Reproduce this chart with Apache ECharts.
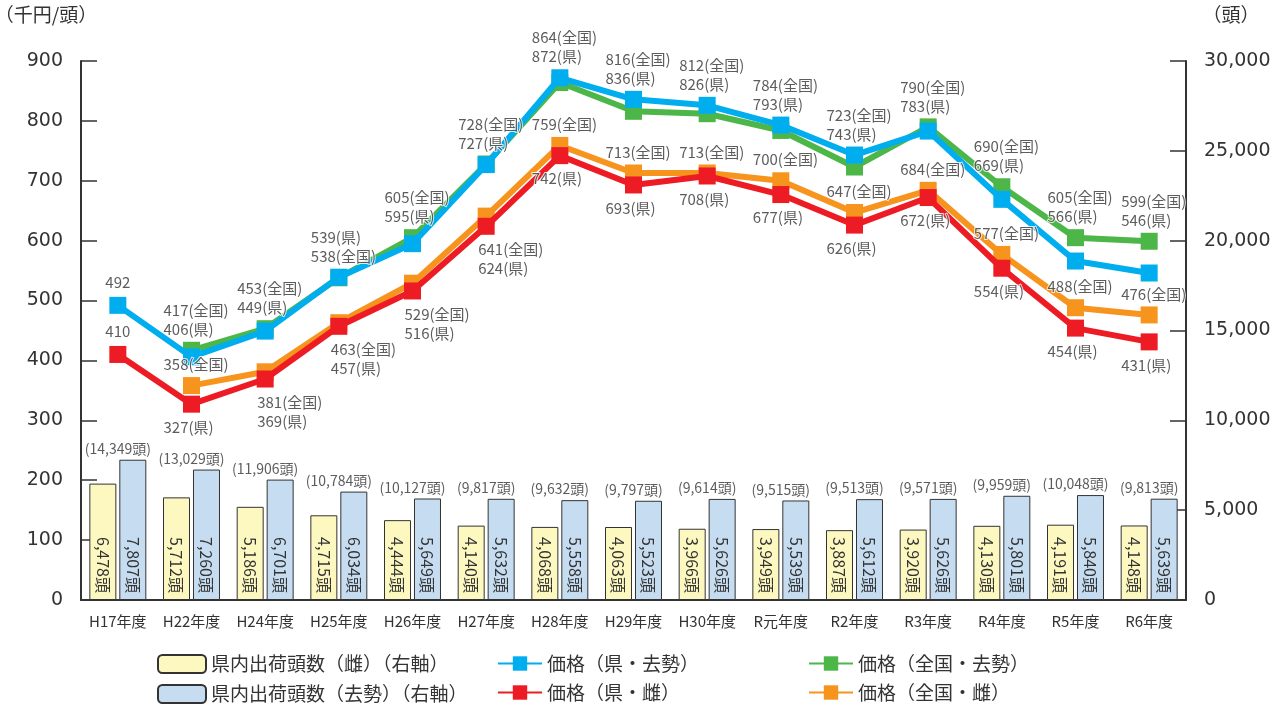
<!DOCTYPE html>
<html>
<head>
<meta charset="utf-8">
<script src="https://cdn.jsdelivr.net/npm/echarts@6/dist/echarts.min.js"></script>
<style>
  html, body { margin: 0; padding: 0; background: #fff; }
  #chart { width: 1281px; height: 706px; }
</style>
</head>
<body>
<div id="chart"></div>
<script>
// 年度
const categories = ['H17年度', 'H22年度', 'H24年度', 'H25年度', 'H26年度', 'H27年度', 'H28年度', 'H29年度',
  'H30年度', 'R元年度', 'R2年度', 'R3年度', 'R4年度', 'R5年度', 'R6年度']

// 県内出荷頭数（頭）
const headFemale = [6478, 5712, 5186, 4715, 4444, 4140, 4068, 4063, 3966, 3949, 3887, 3920, 4130, 4191, 4148]
const headSteer = [7807, 7260, 6701, 6034, 5649, 5632, 5558, 5523, 5626, 5539, 5612, 5626, 5801, 5840, 5639]
const headTotal = [14349, 13029, 11906, 10784, 10127, 9817, 9632, 9797, 9614, 9515, 9513, 9571, 9959, 10048, 9813]

// 価格（千円/頭）
const priceKenSteer = [492, 406, 449, 539, 595, 727, 872, 836, 826, 793, 743, 783, 669, 566, 546]
const priceZenSteer = [null, 417, 453, 538, 605, 728, 864, 816, 812, 784, 723, 790, 690, 605, 599]
const priceKenFemale = [410, 327, 369, 457, 516, 624, 742, 693, 708, 677, 626, 672, 554, 454, 431]
const priceZenFemale = [null, 358, 381, 463, 529, 641, 759, 713, 713, 700, 647, 684, 577, 488, 476]

// 右軸目盛り
const rightTicks = [0, 5000, 10000, 15000, 20000, 25000, 30000]

const FONT = '"Noto Sans CJK JP", "Noto Sans", sans-serif'
const NUM_FONT = '"DejaVu Sans", sans-serif'
const TEXT = '#333'
const AXIS = '#333'
const MARK = 17   // マーカーの大きさ
const HALF = MARK / 2

const fmt = v => v.toLocaleString('en-US')

// ラベルの並び・位置
const steerKenFirst = ['H25年度']
const femaleBelow = ['H24年度', 'H25年度', 'H26年度', 'H27年度']

const baseLabel = {
  show: true,
  color: TEXT,
  fontSize: 15,
  lineHeight: 19,
  fontFamily: FONT,
  textBorderColor: '#fff',
  textBorderWidth: 2
}

// 去勢の価格ラベル（高い方の点の上）
const steerLabelData = categories.map((cat, i) => {
  const ken = priceKenSteer[i]
  const zen = priceZenSteer[i]
  if (zen == null) {
    return { value: ken, label: { ...baseLabel, position: 'top', distance: HALF + 5, formatter: String(ken) } }
  }
  const lines = steerKenFirst.includes(cat)
    ? [`${ken}(県)`, `${zen}(全国)`]
    : [`${zen}(全国)`, `${ken}(県)`]
  return {
    value: Math.max(ken, zen),
    label: { ...baseLabel, position: 'top', distance: HALF + 3, align: 'left', offset: [-28, 0], formatter: lines.join('\n') }
  }
})

// 雌の価格ラベル（上側）
const femaleTopData = categories.map((cat, i) => {
  const ken = priceKenFemale[i]
  const zen = priceZenFemale[i]
  if (zen == null) {
    return { value: ken, label: { ...baseLabel, position: 'top', distance: HALF + 5, formatter: String(ken) } }
  }
  if (femaleBelow.includes(cat)) return '-'
  return {
    value: zen,
    label: { ...baseLabel, position: 'top', distance: HALF + 3, align: 'left', offset: [-28, 0], formatter: `${zen}(全国)` }
  }
})

// 雌の価格ラベル（下側）
const femaleBottomData = categories.map((cat, i) => {
  const ken = priceKenFemale[i]
  const zen = priceZenFemale[i]
  if (zen == null) return '-'
  if (femaleBelow.includes(cat)) {
    return {
      value: ken,
      label: { ...baseLabel, position: 'bottom', distance: HALF + 5, align: 'left', offset: [-8, 0], formatter: `${zen}(全国)\n${ken}(県)` }
    }
  }
  return {
    value: ken,
    label: { ...baseLabel, position: 'bottom', distance: HALF + 5, align: 'left', offset: [-28, 0], formatter: `${ken}(県)` }
  }
})

const labelSeries = data => ({
  type: 'scatter',
  yAxisIndex: 0,
  data,
  symbolSize: 0,
  silent: true,
  z: 10
})

const barLabel = {
  show: true,
  position: 'insideBottom',
  rotate: -90,
  align: 'right',
  verticalAlign: 'middle',
  distance: 7,
  color: TEXT,
  fontSize: 16,
  fontFamily: FONT,
  formatter: p => fmt(p.value) + '頭'
}

const lineSeries = (name, data, color, z) => ({
  name,
  type: 'line',
  yAxisIndex: 0,
  data,
  z,
  symbol: 'rect',
  symbolSize: MARK,
  lineStyle: { color, width: 6 },
  itemStyle: { color },
  label: { show: false }
})

const legendBase = {
  orient: 'vertical',
  top: 654,
  padding: 0,
  itemGap: 10,
  itemHeight: 18,
  textStyle: { color: TEXT, fontSize: 19, fontFamily: FONT }
}

const chart = echarts.init(document.getElementById('chart'))
chart.setOption({
  animation: false,
  backgroundColor: '#fff',
  textStyle: { fontFamily: FONT },
  grid: { left: 81, right: 95, top: 61, bottom: 106, outerBoundsMode: 'none', containLabel: false },
  legend: [
    { ...legendBase, left: 157, itemWidth: 48, data: ['県内出荷頭数（雌）（右軸）', '県内出荷頭数（去勢）（右軸）'] },
    { ...legendBase, left: 497, itemWidth: 44, data: ['価格（県・去勢）', '価格（県・雌）'] },
    { ...legendBase, left: 808, itemWidth: 44, data: ['価格（全国・去勢）', '価格（全国・雌）'] }
  ],
  xAxis: {
    type: 'category',
    data: categories,
    boundaryGap: true,
    axisLine: { lineStyle: { color: AXIS, width: 2 } },
    axisTick: { inside: true, length: 12, lineStyle: { color: AXIS, width: 1.5 } },
    axisLabel: { color: TEXT, fontSize: 15, margin: 14, interval: 0, fontFamily: FONT }
  },
  yAxis: [
    {
      type: 'value',
      min: 0,
      max: 900,
      interval: 100,
      name: '（千円/頭）',
      nameLocation: 'end',
      nameGap: 37,
      nameTextStyle: { color: TEXT, fontSize: 19, fontFamily: FONT, align: 'center', padding: [0, 70, 0, 0] },
      axisLine: { show: true, lineStyle: { color: AXIS, width: 2 } },
      axisTick: { show: true, inside: true, length: 16, lineStyle: { color: AXIS, width: 1.5 } },
      axisLabel: { color: TEXT, fontSize: 19, margin: 18, fontFamily: NUM_FONT },
      splitLine: { show: false }
    },
    {
      type: 'value',
      position: 'right',
      min: rightTicks[0],
      max: rightTicks[rightTicks.length - 1],
      interval: rightTicks[1] - rightTicks[0],
      name: '（頭）',
      nameLocation: 'end',
      nameGap: 37,
      nameTextStyle: { color: TEXT, fontSize: 19, fontFamily: FONT, align: 'center', padding: [0, 0, 0, 90] },
      axisLine: { show: true, lineStyle: { color: AXIS, width: 2 } },
      axisTick: { show: true, inside: true, length: 16, lineStyle: { color: AXIS, width: 1.5 } },
      axisLabel: { color: TEXT, fontSize: 19, margin: 18, fontFamily: NUM_FONT, formatter: v => fmt(v) },
      splitLine: { show: false }
    }
  ],
  series: [
    {
      name: '県内出荷頭数（雌）（右軸）',
      type: 'bar',
      yAxisIndex: 1,
      data: headFemale,
      barWidth: 27,
      barGap: '11%',
      z: 2,
      itemStyle: { color: '#fdf8c0', borderColor: '#333', borderWidth: 1 },
      label: barLabel
    },
    {
      name: '県内出荷頭数（去勢）（右軸）',
      type: 'bar',
      yAxisIndex: 1,
      data: headSteer,
      barWidth: 27,
      barGap: '11%',
      z: 2,
      itemStyle: { color: '#c6ddf1', borderColor: '#333', borderWidth: 1 },
      label: barLabel
    },
    {
      // 合計頭数ラベル（去勢の棒の上、年度の中央）
      type: 'scatter',
      yAxisIndex: 1,
      data: headSteer,
      symbolSize: 0,
      silent: true,
      z: 3,
      label: {
        show: true,
        position: 'top',
        distance: 4,
        color: TEXT,
        fontSize: 14,
        fontFamily: FONT,
        formatter: p => `(${fmt(headTotal[p.dataIndex])}頭)`
      }
    },
    lineSeries('価格（全国・雌）', priceZenFemale, '#f7941d', 3),
    lineSeries('価格（県・雌）', priceKenFemale, '#ed1c24', 4),
    lineSeries('価格（全国・去勢）', priceZenSteer, '#4cb748', 3),
    lineSeries('価格（県・去勢）', priceKenSteer, '#00aeef', 4),
    labelSeries(steerLabelData),
    labelSeries(femaleTopData),
    labelSeries(femaleBottomData)
  ]
})
</script>
</body>
</html>
